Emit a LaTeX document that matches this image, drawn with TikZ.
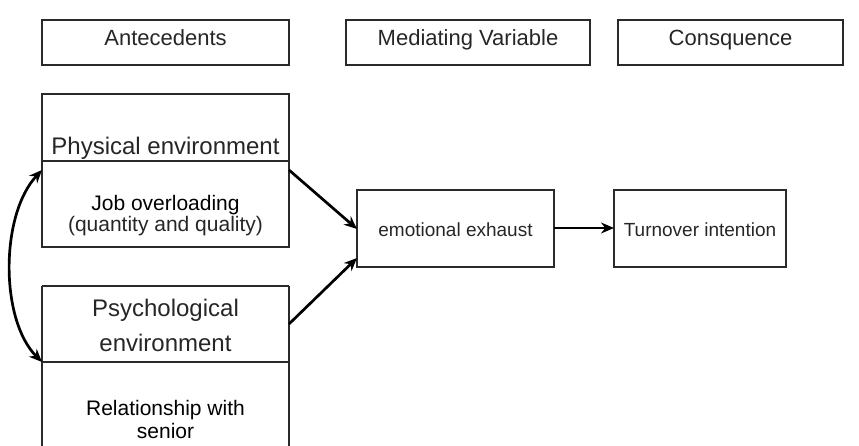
\documentclass[tikz,border=0pt]{standalone}
\usepackage{fontspec}
\setmainfont{Liberation Sans}
\usetikzlibrary{arrows.meta}
\definecolor{txt}{HTML}{262626}
\definecolor{edge}{HTML}{2a2a2a}
\tikzset{
  box/.style={draw=edge, line width=1.1pt},
  lbl/.style={inner sep=0pt, text=txt, anchor=base},
  conn/.style={line width=2.7pt, -{Stealth[length=13pt,width=11pt]}},
  hdr/.style={lbl, font=\fontsize{22}{26}\selectfont},
  big/.style={lbl, font=\fontsize{24}{28}\selectfont},
  mid/.style={lbl, font=\fontsize{21}{25}\selectfont},
}
\begin{document}
\begin{tikzpicture}[x=1pt,y=-1pt]
\useasboundingbox (0,0) rectangle (859,446);
% header boxes
\draw[box] (42,20) rectangle (289,65);
\node[hdr] (hA) at (165.5,46) {Antecedents};
\draw[box] (346,20) rectangle (590,65);
\node[hdr] (hM) at (468,46) {Mediating Variable};
\draw[box] (618,20) rectangle (843,65);
\node[hdr] (hC) at (730.5,46) {Consquence};
% physical environment box
\draw[box] (42,94) rectangle (289,247);
\draw[box] (42,161) -- (289,161);
\node[big] (pe) at (165.5,155) {Physical environment};
\node[mid, text=black] (jo) at (165.5,210.5) {Job overloading};
\node[mid] (qq) at (165.5,232) {(quantity and quality)};
% psychological environment box
\draw[box] (42,286) -- (42,450);
\draw[box] (289,286) -- (289,450);
\draw[box] (42,286) -- (289,286);
\draw[box] (42,362) -- (289,362);
\node[big] (ps1) at (165.5,316.5) {Psychological};
\node[big] (ps2) at (165.5,351.5) {environment};
\node[mid, text=black] (rs1) at (165.5,415) {Relationship with};
\node[mid, text=black] (rs2) at (165.5,438) {senior};
% mediator and consequence
\draw[box] (357,190) rectangle (554,267);
\node[lbl, font=\fontsize{19}{23}\selectfont] (ee) at (455.5,237) {emotional exhaust};
\draw[box] (614,190) rectangle (786,267);
\node[lbl, font=\fontsize{19}{23}\selectfont] (ti) at (700,237) {Turnover intention};
% connectors
\coordinate (pR) at (289,170);
\coordinate (qR) at (289,324);
\coordinate (pL) at (42,170);
\coordinate (qL) at (42,362);
\coordinate (eW1) at (357,229);
\coordinate (eW2) at (357,258);
\coordinate (eE) at (554,228);
\coordinate (tW) at (614,228);
\draw[conn] (pR) -- (eW1);
\draw[conn] (qR) -- (eW2);
\draw[conn] (eE) -- (tW);
\draw[line width=2.7pt, {Stealth[length=13pt,width=11pt]}-{Stealth[length=13pt,width=11pt]}] (pL) .. controls (0,215) and (0,320) .. (qL);
\end{tikzpicture}
\end{document}
